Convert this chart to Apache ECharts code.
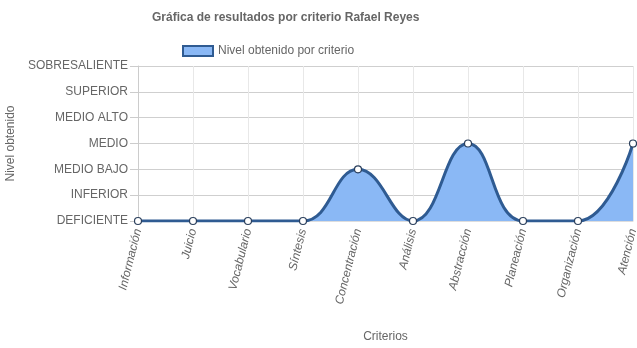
<!DOCTYPE html>
<html>
<head>
<meta charset="utf-8">
<script src="https://cdn.jsdelivr.net/npm/echarts@6/dist/echarts.min.js"></script>
<style>html,body{margin:0;padding:0;background:#fff}#c{width:637px;height:348px}</style>
</head>
<body>
<div id="c"></div>
<script>
var categories = ['Información','Juicio','Vocabulario','Síntesis','Concentración','Análisis','Abstracción','Planeación','Organización','Atención'];
var levels = ['DEFICIENTE','INFERIOR','MEDIO BAJO','MEDIO','MEDIO ALTO','SUPERIOR','SOBRESALIENTE'];
var values = [0,0,0,0,2,0,3,0,0,3];
var seriesName = 'Nivel obtenido por criterio';

var chart = echarts.init(document.getElementById('c'));
var font = 'Liberation Sans, Arial, sans-serif';
chart.setOption({
  animation: false,
  textStyle: {fontFamily: font},
  title: {
    text: 'Gráfica de resultados por criterio Rafael Reyes',
    left: 152, top: 12, padding: 0,
    textStyle: {fontSize: 12, fontWeight: 'bold', color: '#666', fontFamily: font}
  },
  legend: {
    left: 182, top: 45, padding: 0,
    itemWidth: 30, itemHeight: 10, itemGap: 10,
    icon: 'rect',
    textStyle: {fontSize: 12, color: '#666', fontFamily: font},
    data: [{name: seriesName, itemStyle: {color: '#8ab8f5', borderColor: '#2f5b92', borderWidth: 2}}]
  },
  grid: {left: 138, right: 4, top: 66, bottom: 127, containLabel: false, outerBoundsMode: 'none'},
  xAxis: {
    type: 'category',
    data: categories,
    boundaryGap: false,
    name: 'Criterios',
    nameLocation: 'middle',
    nameGap: 110,
    nameTextStyle: {fontSize: 12, color: '#666'},
    axisLine: {show: true, lineStyle: {color: '#ddd'}},
    axisTick: {show: false},
    axisLabel: {rotate: 76, fontStyle: 'italic', fontSize: 12, color: '#666', margin: 8, interval: 0},
    splitLine: {show: true, lineStyle: {color: '#e8e8e8'}}
  },
  yAxis: {
    type: 'value',
    min: 0, max: 6, interval: 1,
    name: 'Nivel obtenido',
    nameLocation: 'middle',
    nameGap: 119,
    nameTextStyle: {fontSize: 12, color: '#666'},
    axisLine: {show: true, lineStyle: {color: '#ccc'}},
    axisTick: {show: true, length: 8, lineStyle: {color: '#ccc'}},
    axisLabel: {fontSize: 12, color: '#666', margin: 10, formatter: function (v) { return levels[v] || ''; }},
    splitLine: {show: true, lineStyle: {color: '#cfcfcf'}}
  },
  series: [{
    name: seriesName,
    type: 'line',
    data: values,
    smooth: 0.45,
    symbol: 'circle',
    symbolSize: 7,
    lineStyle: {color: '#2f5b92', width: 3},
    itemStyle: {color: '#fff', borderColor: '#2b3f5c', borderWidth: 1.2},
    areaStyle: {color: '#8ab8f5', opacity: 1, origin: 'start'}
  }]
});
</script>
</body>
</html>
